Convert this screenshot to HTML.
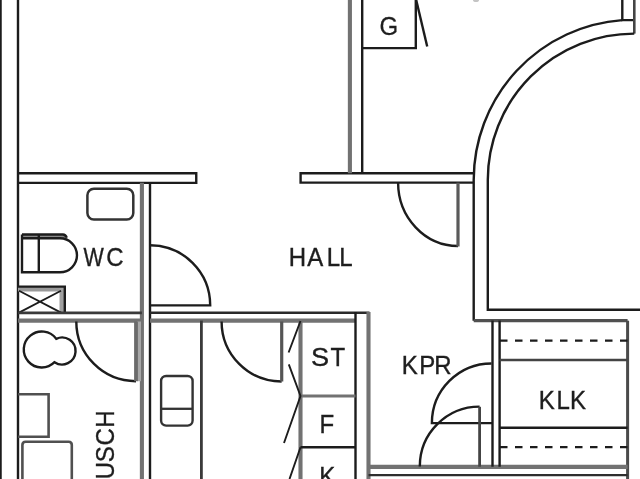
<!DOCTYPE html>
<html><head><meta charset="utf-8">
<style>
html,body{margin:0;padding:0;background:#fff;width:640px;height:479px;overflow:hidden}
svg{display:block;will-change:transform}
text{font-family:"Liberation Sans",sans-serif;fill:#1e1e1e;stroke:#1e1e1e;stroke-width:0.35}
.d{stroke:#1c1c1c;stroke-width:2.4}
.m{stroke:#444;stroke-width:2.6}
.g{stroke:#727272;stroke-width:4.1}
</style></head>
<body>
<svg width="640" height="479" viewBox="0 0 640 479">
<g>
<rect width="640" height="479" fill="#fff"/>
<g fill="none" stroke-linecap="butt" stroke-linejoin="miter">
<!-- left outer walls -->
<line class="d" x1="0.6" y1="0" x2="0.6" y2="479" style="stroke-width:2.3"/>
<line class="d" x1="18" y1="0" x2="18" y2="479"/>
<!-- horizontal wall y=173/183 -->
<path class="d" d="M18 173.25 H196.25 V182.85 H18"/>
<path class="d" d="M473.7 173.2 H300.6 V182.6 H473.7"/>
<!-- verticals top middle -->
<line class="g" x1="349.9" y1="0" x2="349.9" y2="173.2"/>
<line class="d" x1="362.2" y1="0" x2="362.2" y2="173.2"/>
<!-- G box -->
<path class="d" d="M362.2 48.1 H415.8 V0"/>
<line class="d" x1="416.2" y1="0" x2="427.2" y2="46.5"/>
<!-- curved wall -->
<path class="d" d="M622.3 0 V20.1 H634.3"/>
<path class="d" d="M622.3 20.1 A160.3 160.3 0 0 0 473.7 179.8 V320.7"/>
<path class="m" d="M634.3 0 V33.6"/>
<path class="d" d="M634.3 33.6 A146.3 146.3 0 0 0 487.8 179.8 V309.8 H640"/>
<line class="m" x1="473.7" y1="320.7" x2="627.6" y2="320.7" style="stroke:#505050;stroke-width:3.2"/>
<line class="m" x1="627.6" y1="320.7" x2="627.6" y2="479" style="stroke:#4a4a4a;stroke-width:3"/>
<!-- hall door -->
<path class="d" d="M398.1 182.6 A60 63.4 0 0 0 458 246"/>
<line class="g" x1="458" y1="182.6" x2="458" y2="246.5" style="stroke:#5a5a5a;stroke-width:3.2"/>
<!-- WC / hall vertical wall -->
<line class="g" x1="141.9" y1="182.85" x2="141.9" y2="479"/>
<line class="d" x1="150" y1="182.85" x2="150" y2="479"/>
<!-- sink WC -->
<rect class="m" x="87.4" y="188.7" width="45.9" height="30.9" rx="6.5" style="stroke:#333;stroke-width:2.5"/>
<!-- toilet -->
<rect x="22" y="235" width="43" height="3.6" fill="#8a8a8a" stroke="none"/>
<path class="d" d="M22 234.5 H63 Q65.5 234.5 66.8 237.8"/>
<path class="d" d="M22 234.5 V272.3 H60 A17 17 0 0 0 60 238.3 H22"/>
<line class="d" x1="38.8" y1="234.5" x2="38.8" y2="272.3"/>
<!-- WC door -->
<path class="d" d="M150 245.2 A60.2 60.2 0 0 1 210.2 305.4 H150"/>
<!-- X box -->
<rect x="18" y="287" width="46" height="4.5" fill="#9a9a9a"/>
<rect x="59.5" y="287" width="5" height="25.5" fill="#a0a0a0"/>
<path class="d" d="M18 286.6 H64.8 V312.9"/>
<path class="d" d="M19 290.8 L61 312.6 M61 290.8 L19 312.6" style="stroke-width:1.8"/>
<!-- bottom horizontal wall -->
<line class="d" x1="18" y1="312.9" x2="141.9" y2="312.9" style="stroke:#3a3a3a;stroke-width:2.6"/>
<line class="g" x1="18" y1="320.6" x2="141.9" y2="320.6"/>
<line class="d" x1="150" y1="312.7" x2="369.5" y2="312.7" style="stroke:#2a2a2a;stroke-width:2.6"/>
<line class="g" x1="150" y1="320.6" x2="355.5" y2="320.6"/>
<line class="g" x1="368.5" y1="312" x2="368.5" y2="479"/>
<line class="d" x1="355.5" y1="312" x2="355.5" y2="479"/>
<!-- shower door -->
<path class="d" d="M76.3 321.5 A59.7 59.7 0 0 0 136 381.2"/>
<rect x="137" y="321.5" width="4" height="59.7" fill="#a8a8a8"/>
<line class="g" x1="136" y1="321.5" x2="136" y2="381.2" style="stroke:#6a6a6a;stroke-width:3.8"/>
<!-- double circle -->
<path class="d" d="M56.26 338.8 A18 18 0 1 0 54.52 362.2 A13.5 13.5 0 1 0 56.26 338.8 Z"/>
<!-- box -->
<path class="m" d="M18 394.2 H48.6 V436.8 H18" style="stroke:#505050;stroke-width:2.6"/>
<path class="g" d="M22.4 479 V445 Q22.4 441.8 25.6 441.8 H68.6 Q71.8 441.8 71.8 445 V479" style="stroke:#505050;stroke-width:2.6"/>
<!-- middle room -->
<line class="d" x1="201.4" y1="320.6" x2="201.4" y2="479" style="stroke:#3a3a3a;stroke-width:2.8"/>
<rect class="m" x="161.1" y="376" width="31.5" height="49.6" rx="5" style="stroke:#333;stroke-width:2.4"/>
<line class="m" x1="161.1" y1="408.8" x2="192.6" y2="408.8" style="stroke:#333;stroke-width:2.3"/>
<path class="d" d="M221.6 321.5 A60 60 0 0 0 281.6 381.5"/>
<line class="g" x1="281.7" y1="321.5" x2="281.7" y2="381.5" style="stroke:#555;stroke-width:3.2"/>
<!-- cabinet column -->
<line class="g" x1="300.5" y1="320.6" x2="300.5" y2="479"/>
<line class="g" x1="300.5" y1="396" x2="355.5" y2="396" style="stroke-width:3"/>
<line class="d" x1="300.5" y1="447.3" x2="355.5" y2="447.3"/>
<path class="d" d="M300.5 321 L288.6 352.5 M288.8 364.3 L300.5 396 L284 443 M300.5 447.3 L289.5 479" style="stroke-width:1.9"/>
<!-- KPR region -->
<line class="g" x1="368.5" y1="466.9" x2="627.6" y2="466.9"/>
<line class="d" x1="368.5" y1="475.1" x2="627.6" y2="475.1" style="stroke:#2e2e2e"/>
<line class="d" x1="492.5" y1="320.6" x2="492.5" y2="466.7"/>
<line class="d" x1="499.6" y1="320.6" x2="499.6" y2="466.7"/>
<path class="d" d="M491.5 363.5 A59.6 59.6 0 0 0 431.9 423.1 H492.5"/>
<path class="d" d="M479.6 406.6 A59.8 59.8 0 0 0 419.8 466.4"/>
<line class="m" x1="479.6" y1="406.8" x2="479.6" y2="466.7" style="stroke:#444;stroke-width:2.8"/>
<!-- KLK -->
<line class="m" x1="499.6" y1="360" x2="627.6" y2="360"/>
<line class="d" x1="499.6" y1="427.8" x2="627.6" y2="427.8"/>
<path class="d" d="M500 340.6 H627.6 M500 447.1 H627.6" stroke-dasharray="7.5 7.5"/>
</g>
<ellipse cx="476" cy="0.3" rx="3" ry="1.8" fill="#c4c4c4"/>
<g font-size="24">
<text transform="translate(0 265.9) scale(1 1.06)" x="288.7 307.35 326.7 339.3" y="0">HALL</text>
<text transform="translate(83.5 266) scale(0.895 1.06)">W</text>
<text transform="translate(0 266.0) scale(1 1.06)" x="106.2" y="0">C</text>
<text transform="translate(0 35.1) scale(1 1.06)" x="379.5" y="0" style="stroke-width:0.25">G</text>
<text transform="translate(311 366.2) scale(1.13 1.06)">S</text>
<text transform="translate(0 365.9) scale(1 1.06)" x="330.6" y="0">T</text>
<text transform="translate(0 432.9) scale(1 1.06)" x="319.6" y="0">F</text>
<text transform="translate(0 484.7) scale(1 1.06)" x="319.3" y="0">K</text>
<text transform="translate(0 374.4) scale(1 1.06)" x="401.8 419.2 434.2" y="0">KPR</text>
<text transform="translate(0 408.9) scale(1 1.06)" x="538.7 556.4 570" y="0">KLK</text>
<text style="stroke-width:0.3" transform="translate(114.4 0) rotate(-90) scale(1 1.06)" x="-495.5 -479.3 -462.2 -445.4 -427.8" y="0">DUSCH</text>
</g>
</g>
</svg>
</body></html>
